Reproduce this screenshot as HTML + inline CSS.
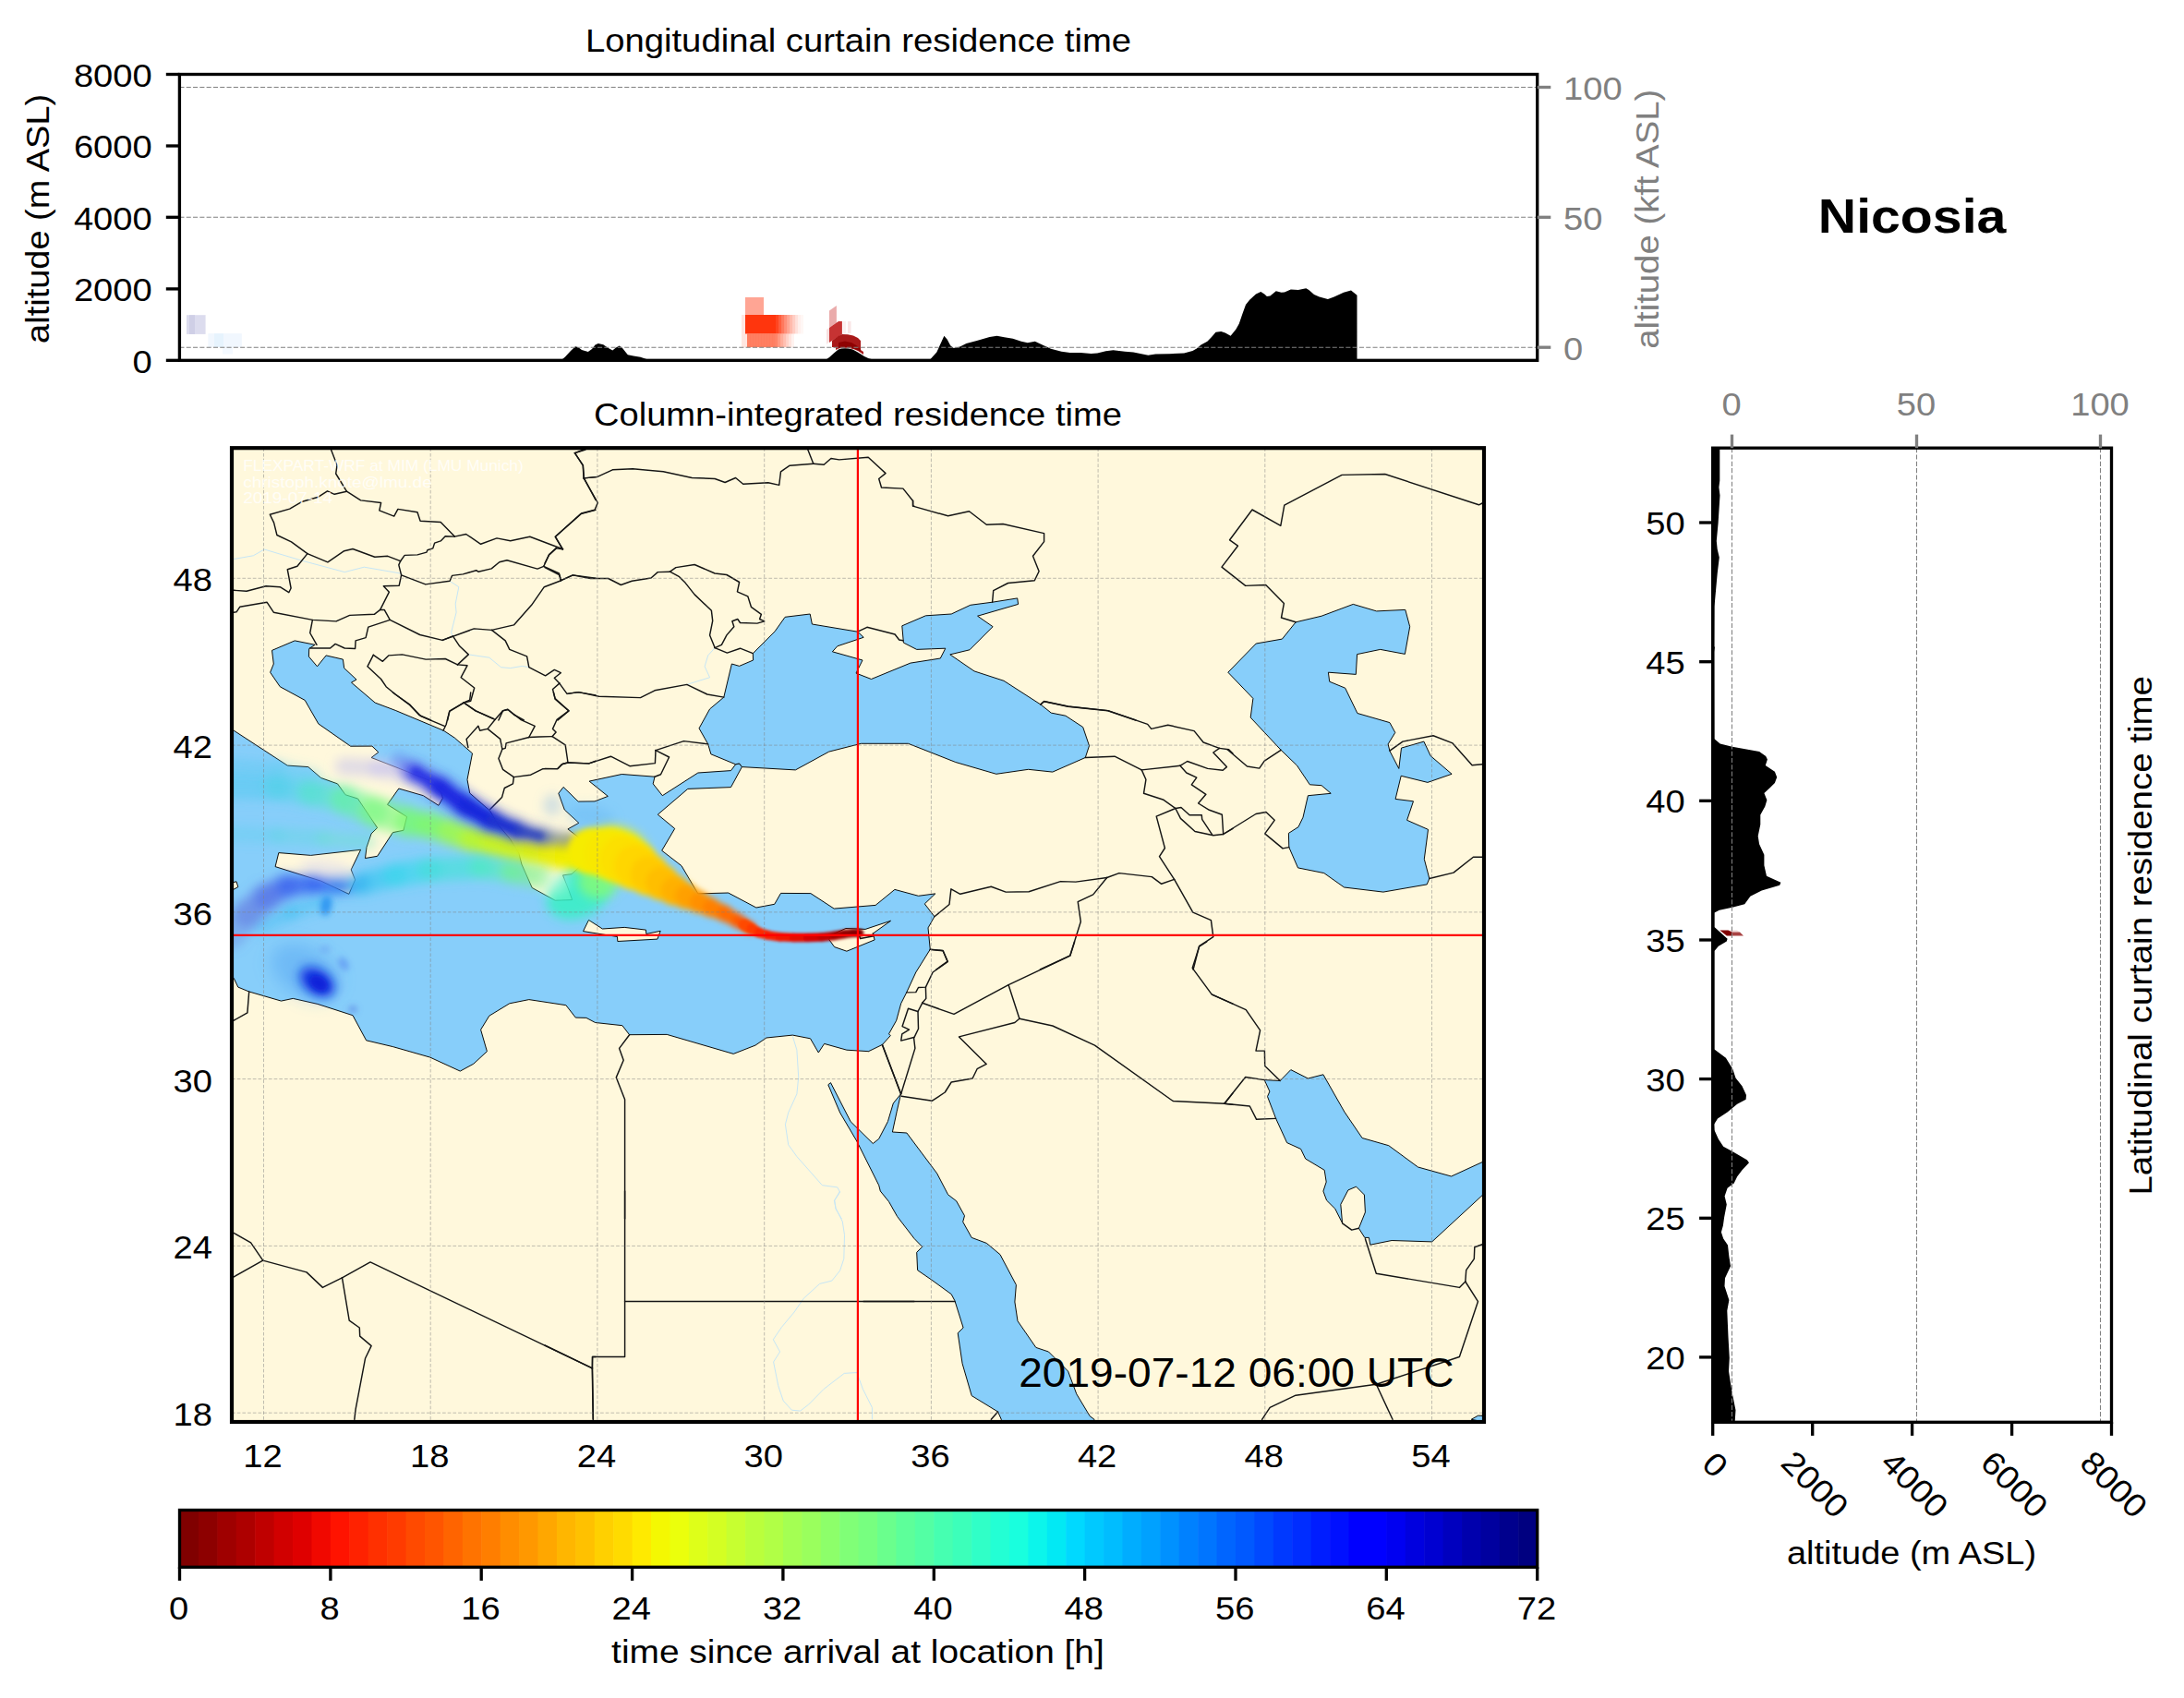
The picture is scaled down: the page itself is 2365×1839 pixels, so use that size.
<!DOCTYPE html>
<html><head><meta charset="utf-8"><title>FLEXPART residence time - Nicosia</title>
<style>html,body{margin:0;padding:0;background:#fff}svg{display:block}text{font-family:"Liberation Sans",sans-serif}</style></head><body>
<svg width="2365" height="1839" viewBox="0 0 2365 1839">
<defs>
<clipPath id="cmap"><rect x="251" y="485.2" width="1356" height="1054.8"/></clipPath>
<clipPath id="cax1"><rect x="194.4" y="80.5" width="1470.3" height="309.8"/></clipPath>
<clipPath id="cax3"><rect x="1854.7" y="485.2" width="431.8" height="1055.1"/></clipPath>
<filter id="b2" filterUnits="userSpaceOnUse" x="200" y="450" width="1450" height="1120"><feGaussianBlur stdDeviation="1.6"/></filter>
<filter id="b3" filterUnits="userSpaceOnUse" x="200" y="450" width="1450" height="1120"><feGaussianBlur stdDeviation="3"/></filter>
<filter id="b6" filterUnits="userSpaceOnUse" x="200" y="450" width="1450" height="1120"><feGaussianBlur stdDeviation="6"/></filter>
<filter id="b9" filterUnits="userSpaceOnUse" x="200" y="450" width="1450" height="1120"><feGaussianBlur stdDeviation="9"/></filter>
</defs>
<rect width="2365" height="1839" fill="#fff"/>
<g id="ax1">
<g clip-path="url(#cax1)">
<rect x="202" y="341.2" width="20.6" height="20.7" fill="#dcdcee"/>
<rect x="205" y="341.2" width="6" height="20.7" fill="#cfcfe6"/>
<rect x="225.4" y="361.2" width="36.4" height="14.8" fill="#f1f7fe"/>
<rect x="232" y="361.2" width="10" height="14.8" fill="#e6f3fd"/>
<rect x="241" y="376" width="11" height="7.5" fill="#f4f9ff"/>
<rect x="807" y="322" width="20" height="19" fill="#ff2800" opacity="0.42"/>
<rect x="803" y="341" width="5" height="20.5" fill="#ff2800" opacity="0.12"/>
<rect x="807.0" y="341" width="3.05" height="20.5" fill="#ff2a00" opacity="0.95"/>
<rect x="810.0" y="341" width="3.05" height="20.5" fill="#ff2a00" opacity="0.95"/>
<rect x="813.0" y="341" width="3.05" height="20.5" fill="#ff2a00" opacity="0.95"/>
<rect x="816.0" y="341" width="3.05" height="20.5" fill="#ff2a00" opacity="0.95"/>
<rect x="819.0" y="341" width="3.05" height="20.5" fill="#ff2a00" opacity="0.95"/>
<rect x="822.0" y="341" width="3.05" height="20.5" fill="#ff2a00" opacity="0.95"/>
<rect x="825.0" y="341" width="3.05" height="20.5" fill="#ff2a00" opacity="0.95"/>
<rect x="828.0" y="341" width="3.05" height="20.5" fill="#ff2a00" opacity="0.95"/>
<rect x="831.0" y="341" width="3.05" height="20.5" fill="#ff2a00" opacity="0.95"/>
<rect x="834.0" y="341" width="3.05" height="20.5" fill="#ff2a00" opacity="0.95"/>
<rect x="837.0" y="341" width="3.05" height="20.5" fill="#ff2a00" opacity="0.95"/>
<rect x="840.0" y="341" width="3.05" height="20.5" fill="#ff2a00" opacity="0.87"/>
<rect x="843.0" y="341" width="3.05" height="20.5" fill="#ff2a00" opacity="0.75"/>
<rect x="846.0" y="341" width="3.05" height="20.5" fill="#ff2a00" opacity="0.63"/>
<rect x="849.0" y="341" width="3.05" height="20.5" fill="#ff2a00" opacity="0.52"/>
<rect x="852.0" y="341" width="3.05" height="20.5" fill="#ff2a00" opacity="0.42"/>
<rect x="855.0" y="341" width="3.05" height="20.5" fill="#ff2a00" opacity="0.32"/>
<rect x="858.0" y="341" width="3.05" height="20.5" fill="#ff2a00" opacity="0.23"/>
<rect x="861.0" y="341" width="3.05" height="20.5" fill="#ff2a00" opacity="0.14"/>
<rect x="864.0" y="341" width="3.05" height="20.5" fill="#ff2a00" opacity="0.07"/>
<rect x="867.0" y="341" width="3.05" height="20.5" fill="#ff2a00" opacity="0.04"/>
<rect x="803.0" y="361.5" width="3.05" height="14.6" fill="#ff3000" opacity="0.12"/>
<rect x="806.0" y="361.5" width="3.05" height="14.6" fill="#ff3000" opacity="0.12"/>
<rect x="809.0" y="361.5" width="3.05" height="14.6" fill="#ff3000" opacity="0.62"/>
<rect x="812.0" y="361.5" width="3.05" height="14.6" fill="#ff3000" opacity="0.62"/>
<rect x="815.0" y="361.5" width="3.05" height="14.6" fill="#ff3000" opacity="0.62"/>
<rect x="818.0" y="361.5" width="3.05" height="14.6" fill="#ff3000" opacity="0.62"/>
<rect x="821.0" y="361.5" width="3.05" height="14.6" fill="#ff3000" opacity="0.62"/>
<rect x="824.0" y="361.5" width="3.05" height="14.6" fill="#ff3000" opacity="0.62"/>
<rect x="827.0" y="361.5" width="3.05" height="14.6" fill="#ff3000" opacity="0.62"/>
<rect x="830.0" y="361.5" width="3.05" height="14.6" fill="#ff3000" opacity="0.62"/>
<rect x="833.0" y="361.5" width="3.05" height="14.6" fill="#ff3000" opacity="0.62"/>
<rect x="836.0" y="361.5" width="3.05" height="14.6" fill="#ff3000" opacity="0.62"/>
<rect x="839.0" y="361.5" width="3.05" height="14.6" fill="#ff3000" opacity="0.59"/>
<rect x="842.0" y="361.5" width="3.05" height="14.6" fill="#ff3000" opacity="0.49"/>
<rect x="845.0" y="361.5" width="3.05" height="14.6" fill="#ff3000" opacity="0.39"/>
<rect x="848.0" y="361.5" width="3.05" height="14.6" fill="#ff3000" opacity="0.30"/>
<rect x="851.0" y="361.5" width="3.05" height="14.6" fill="#ff3000" opacity="0.21"/>
<rect x="854.0" y="361.5" width="3.05" height="14.6" fill="#ff3000" opacity="0.13"/>
<rect x="857.0" y="361.5" width="3.05" height="14.6" fill="#ff3000" opacity="0.06"/>
<polygon points="898,336.4 905.9,331 905.9,349.6 898,355" fill="#c00000" opacity="0.33"/>
<polygon points="895,357 898,355 898,370 895,373" fill="#c00000" opacity="0.12"/>
<polygon points="898,355 908,348 911.9,348 911.9,362 901,369 898,371" fill="#b80000" opacity="0.8"/>
<polygon points="913,348 916,348 916,361 913,361" fill="#c00000" opacity="0.06"/>
<polygon points="918,348 921.5,348 921.5,361 918,361" fill="#c00000" opacity="0.1"/>
<path d="M901,369 L908,364 L912,362 L918,362.2 L924,363.5 L929,366 L932,369 L932,379 L935,381 L935,384 L929,380 L924,378 L918,376.6 L912,376.6 L908,377.5 L905,379 L905,376 L901,376 Z" fill="#a00000" opacity="0.9"/>
<path d="M908,371 L915,369.5 L922,371 L928,374.5 L932,378 L932,381 L926,378 L918,376.6 L910,376.8 L908,377.5 Z" fill="#8b0000" opacity="0.9"/>
<path d="M607.5 390.3 L612.0 386.5 L618.0 380.0 L623.0 375.2 L626.0 376.0 L630.0 379.0 L636.8 381.0 L641.0 378.0 L644.5 373.5 L647.8 372.0 L653.3 373.3 L658.0 376.5 L663.3 379.4 L667.0 376.5 L670.7 374.6 L674.0 377.0 L679.8 384.3 L686.0 385.5 L693.6 386.7 L700.9 389.3 L703.0 390.3Z" fill="#000"/>
<path d="M893.4 390.3 L898.0 387.0 L903.0 382.5 L907.8 378.4 L911.0 377.4 L915.2 377.2 L919.0 377.5 L923.4 378.6 L928.0 381.0 L932.5 383.8 L936.0 386.0 L940.8 388.3 L945.7 389.6 L948.0 390.3Z" fill="#000"/>
<path d="M1006.0 390.3 L1007.5 388.9 L1014.3 381.6 L1022.4 363.7 L1025.8 367.8 L1029.2 374.2 L1032.7 377.0 L1039.5 375.4 L1046.4 372.0 L1057.8 369.0 L1071.6 364.9 L1079.6 363.7 L1087.6 365.3 L1096.8 366.7 L1105.9 369.7 L1112.8 371.3 L1120.8 369.7 L1128.8 373.6 L1138.0 377.7 L1149.4 380.7 L1158.6 382.0 L1170.0 382.0 L1181.5 383.0 L1188.3 382.5 L1197.5 380.2 L1205.5 379.3 L1218.1 380.7 L1227.3 381.6 L1243.3 384.8 L1251.3 383.4 L1266.2 383.2 L1282.2 382.5 L1291.4 380.0 L1295.9 377.5 L1300.5 373.6 L1307.4 369.7 L1312.0 365.1 L1316.5 359.8 L1322.3 358.9 L1326.8 360.5 L1332.6 363.7 L1338.3 356.8 L1341.7 350.7 L1345.2 340.4 L1349.0 330.1 L1353.2 324.8 L1360.0 318.6 L1365.3 315.9 L1369.2 318.6 L1371.9 320.9 L1375.4 320.4 L1381.8 315.2 L1387.5 316.8 L1390.9 316.6 L1397.8 313.6 L1405.8 314.0 L1414.3 312.2 L1417.3 314.0 L1423.0 319.1 L1428.7 321.6 L1437.9 323.9 L1444.7 321.6 L1455.0 316.8 L1463.0 314.5 L1469.5 319.8 L1469.5 390.3Z" fill="#000"/>
</g>
<line x1="194.4" y1="94.5" x2="1664.7" y2="94.5" stroke="#808080" stroke-width="1.05" stroke-dasharray="5.1 2.2"/>
<line x1="194.4" y1="235.3" x2="1664.7" y2="235.3" stroke="#808080" stroke-width="1.05" stroke-dasharray="5.1 2.2"/>
<line x1="194.4" y1="376.2" x2="1664.7" y2="376.2" stroke="#808080" stroke-width="1.05" stroke-dasharray="5.1 2.2"/>
<rect x="194.4" y="80.5" width="1470.3" height="309.8" fill="none" stroke="#000" stroke-width="3.33"/>
<line x1="179.8" y1="80.5" x2="194.4" y2="80.5" stroke="#000" stroke-width="3.33"/>
<text x="79.9" y="93.9" font-size="35.3" fill="#000" textLength="84.8" lengthAdjust="spacingAndGlyphs">8000</text>
<line x1="179.8" y1="158.0" x2="194.4" y2="158.0" stroke="#000" stroke-width="3.33"/>
<text x="79.9" y="171.4" font-size="35.3" fill="#000" textLength="84.8" lengthAdjust="spacingAndGlyphs">6000</text>
<line x1="179.8" y1="235.3" x2="194.4" y2="235.3" stroke="#000" stroke-width="3.33"/>
<text x="79.9" y="248.7" font-size="35.3" fill="#000" textLength="84.8" lengthAdjust="spacingAndGlyphs">4000</text>
<line x1="179.8" y1="312.9" x2="194.4" y2="312.9" stroke="#000" stroke-width="3.33"/>
<text x="79.9" y="326.3" font-size="35.3" fill="#000" textLength="84.8" lengthAdjust="spacingAndGlyphs">2000</text>
<line x1="179.8" y1="390.3" x2="194.4" y2="390.3" stroke="#000" stroke-width="3.33"/>
<text x="143.5" y="403.7" font-size="35.3" fill="#000" textLength="21.2" lengthAdjust="spacingAndGlyphs">0</text>
<line x1="1664.7" y1="94.5" x2="1679.3" y2="94.5" stroke="#808080" stroke-width="3.33"/>
<text x="1693.0" y="108.1" font-size="35.3" fill="#808080" textLength="63.6" lengthAdjust="spacingAndGlyphs">100</text>
<line x1="1664.7" y1="235.3" x2="1679.3" y2="235.3" stroke="#808080" stroke-width="3.33"/>
<text x="1693.0" y="248.9" font-size="35.3" fill="#808080" textLength="42.4" lengthAdjust="spacingAndGlyphs">50</text>
<line x1="1664.7" y1="376.2" x2="1679.3" y2="376.2" stroke="#808080" stroke-width="3.33"/>
<text x="1693.0" y="389.8" font-size="35.3" fill="#808080" textLength="21.2" lengthAdjust="spacingAndGlyphs">0</text>
<g transform="translate(53.2,371.9) rotate(-90)"><text x="0.0" y="0.0" font-size="35.3" fill="#000" textLength="270.1" lengthAdjust="spacingAndGlyphs">altitude (m ASL)</text></g>
<g transform="translate(1796.4,377.8) rotate(-90)"><text x="0.0" y="0.0" font-size="35.3" fill="#808080" textLength="281.1" lengthAdjust="spacingAndGlyphs">altitude (kft ASL)</text></g>
<text x="633.9" y="56.0" font-size="35.3" fill="#000" textLength="591.2" lengthAdjust="spacingAndGlyphs">Longitudinal curtain residence time</text>
</g>
<text x="1968.8" y="251.5" font-size="52.0" fill="#000" textLength="203.6" lengthAdjust="spacingAndGlyphs" font-weight="bold">Nicosia</text>
<g id="map">
<rect x="251.0" y="485.2" width="1356.0" height="1054.8" fill="#fff8dc"/>
<g clip-path="url(#cmap)">
<path d="M251.0 791.2 L253.2 791.2 L311.3 829.1 L333.8 830.6 L347.6 842.5 L365.5 848.9 L374.1 860.8 L387.5 865.0 L408.6 896.5 L402.1 902.9 L397.0 917.6 L395.5 929.5 L408.6 927.3 L425.4 901.6 L436.9 899.3 L440.6 884.6 L419.5 871.4 L431.8 854.0 L458.4 861.7 L474.9 872.3 L479.4 864.5 L477.6 858.1 L464.8 845.2 L433.6 832.8 L402.1 820.5 L409.8 814.7 L402.9 808.1 L379.6 808.2 L344.8 783.9 L330.2 758.4 L303.2 743.7 L292.6 728.2 L296.3 719.0 L294.5 704.4 L319.2 693.9 L341.2 698.3 L334.7 702.5 L334.4 711.1 L343.5 721.8 L353.1 709.9 L371.4 714.1 L372.7 723.6 L386.0 736.0 L380.5 739.2 L406.2 761.1 L428.2 769.4 L480.3 791.2 L492.3 799.1 L511.5 815.9 L506.0 844.3 L508.7 859.0 L530.7 878.2 L539.3 893.1 L552.4 908.6 L561.9 924.0 L564.9 936.0 L576.2 961.5 L601.2 975.2 L619.6 974.6 L616.1 964.5 L609.5 947.9 L619.0 946.7 L633.3 933.6 L641.7 918.1 L628.6 908.6 L614.9 897.9 L626.8 891.3 L611.3 877.0 L604.8 859.2 L610.1 852.4 L626.2 868.1 L644.0 867.9 L658.3 862.4 L638.1 846.1 L673.3 838.5 L709.0 841.2 L707.2 848.9 L717.3 861.7 L755.8 837.0 L791.5 834.6 L796.6 827.8 L800.6 826.9 L803.4 830.6 L791.5 852.6 L744.8 854.4 L712.3 882.2 L730.7 897.4 L716.7 921.2 L738.0 937.7 L755.8 967.9 L788.7 967.0 L818.9 983.0 L838.7 979.3 L845.5 967.4 L877.9 967.6 L903.2 984.1 L948.1 980.4 L968.9 963.4 L994.5 970.3 L1012.8 967.9 L1001.3 978.9 L1011.9 992.7 L1005.0 1004.9 L1007.3 1028.4 L1007.3 1028.2 L991.8 1053.0 L981.7 1074.9 L975.7 1086.8 L970.7 1105.2 L962.5 1119.8 L964.3 1121.6 L955.5 1131.4 L940.5 1138.7 L940.7 1138.7 L916.9 1137.2 L892.6 1130.4 L886.3 1140.0 L877.5 1124.8 L858.3 1121.1 L829.9 1124.0 L818.0 1132.1 L794.2 1141.4 L722.2 1120.4 L681.6 1120.7 L673.9 1110.7 L644.6 1107.5 L634.9 1102.4 L623.3 1102.1 L612.9 1088.7 L572.8 1082.6 L551.8 1086.8 L529.8 1100.2 L520.6 1115.2 L527.4 1138.7 L512.8 1152.2 L498.3 1160.1 L465.7 1145.1 L425.4 1133.6 L396.6 1126.8 L382.0 1099.7 L343.9 1087.4 L317.3 1081.4 L304.5 1084.1 L269.7 1074.0 L257.8 1069.1 L253.2 1059.4 L251.0 1059.4Z" fill="#87cefa" stroke="#000" stroke-width="0.95" stroke-linejoin="round"/>
<path d="M796.6 827.8 L769.9 816.8 L766.7 805.9 L757.0 788.8 L768.6 767.9 L783.8 755.1 L792.4 719.0 L800.6 721.4 L815.6 715.0 L815.3 707.7 L839.1 683.8 L850.1 668.3 L877.2 665.0 L879.4 676.0 L928.8 684.2 L935.2 690.3 L906.8 699.8 L901.4 705.8 L934.0 715.0 L927.0 729.1 L943.5 735.5 L985.9 718.1 L1018.3 713.0 L1023.8 702.2 L992.7 703.4 L978.4 696.1 L976.8 677.8 L1002.4 666.8 L1030.2 665.0 L1050.8 655.3 L1074.6 652.2 L1101.7 647.9 L1102.6 654.4 L1058.6 667.2 L1075.1 678.7 L1050.0 703.8 L1028.8 708.9 L1055.0 726.9 L1087.0 737.3 L1126.9 763.0 L1138.3 772.1 L1153.9 775.2 L1172.7 787.5 L1179.5 807.7 L1175.3 820.5 L1139.8 836.1 L1113.6 833.3 L1078.8 838.3 L1034.8 825.5 L983.5 805.3 L932.5 805.3 L897.7 814.1 L861.4 833.9 L803.4 830.6 L800.6 826.9Z" fill="#87cefa" stroke="#000" stroke-width="0.95" stroke-linejoin="round"/>
<path d="M1403.1 673.8 L1431.1 667.2 L1465.3 654.4 L1490.6 661.9 L1521.8 660.4 L1526.7 678.7 L1521.4 708.4 L1494.7 703.4 L1469.6 708.6 L1468.3 730.4 L1438.4 728.2 L1439.7 738.2 L1456.7 745.2 L1469.9 772.5 L1504.9 782.6 L1510.8 793.4 L1503.1 805.9 L1504.9 813.2 L1514.8 832.4 L1517.5 810.1 L1541.9 803.1 L1549.2 818.7 L1572.1 838.3 L1545.9 847.4 L1517.2 840.3 L1511.1 865.4 L1530.5 867.8 L1523.6 888.3 L1546.5 898.4 L1542.3 930.4 L1547.8 951.5 L1545.2 957.9 L1497.9 966.1 L1455.5 961.0 L1433.8 945.6 L1405.5 939.9 L1395.8 917.6 L1395.4 902.4 L1406.0 895.6 L1411.0 885.2 L1416.4 861.7 L1441.2 859.3 L1431.1 850.7 L1418.3 849.8 L1404.5 829.1 L1387.1 812.3 L1354.2 777.1 L1356.9 756.4 L1329.8 728.2 L1360.2 697.0 L1388.4 692.1Z" fill="#87cefa" stroke="#000" stroke-width="0.95" stroke-linejoin="round"/>
<path d="M899.5 1172.6 L921.1 1214.7 L945.3 1238.5 L951.7 1233.4 L961.4 1214.7 L967.3 1194.9 L975.5 1184.8 L971.3 1203.2 L966.4 1226.0 L981.9 1227.0 L1014.7 1270.9 L1026.6 1293.8 L1035.7 1300.8 L1044.5 1316.7 L1042.7 1323.3 L1052.2 1340.4 L1068.3 1346.4 L1083.0 1358.7 L1100.4 1391.6 L1098.9 1410.0 L1102.0 1430.7 L1121.8 1459.4 L1135.5 1464.0 L1156.6 1485.1 L1165.8 1509.8 L1180.1 1533.6 L1185.0 1537.3 L1185.0 1540.0 L1084.3 1540.0 L1084.3 1537.3 L1080.6 1529.0 L1052.2 1511.6 L1042.1 1476.8 L1037.2 1443.8 L1043.1 1438.0 L1033.9 1408.7 L1030.2 1401.7 L1008.3 1385.8 L993.6 1375.7 L992.7 1356.3 L998.7 1350.4 L989.9 1341.3 L971.6 1317.5 L962.5 1301.4 L953.3 1290.0 L951.7 1283.7 L927.9 1236.1 L909.6 1205.0 L896.8 1174.8Z" fill="#87cefa" stroke="#000" stroke-width="0.95" stroke-linejoin="round"/>
<path d="M1369.2 1169.6 L1386.2 1170.5 L1397.8 1158.6 L1416.4 1168.0 L1432.9 1163.8 L1455.8 1204.1 L1475.1 1232.5 L1503.8 1240.7 L1535.5 1264.0 L1571.6 1274.0 L1605.1 1258.6 L1607.0 1258.6 L1607.0 1294.6 L1605.1 1294.6 L1550.7 1344.9 L1507.1 1343.5 L1483.8 1348.2 L1482.4 1340.4 L1477.8 1340.4 L1471.4 1330.3 L1478.4 1312.9 L1477.4 1294.0 L1468.6 1285.2 L1459.9 1288.9 L1451.8 1304.4 L1453.6 1324.8 L1445.8 1309.2 L1436.6 1300.1 L1432.9 1290.1 L1436.2 1280.1 L1434.2 1267.3 L1413.7 1255.0 L1408.6 1244.4 L1393.6 1237.6 L1381.6 1211.4 L1372.5 1187.6 L1374.9 1182.1Z" fill="#87cefa" stroke="#000" stroke-width="0.95" stroke-linejoin="round"/>
<path d="M1593.2 1537.3 L1600.5 1533.2 L1605.1 1533.2 L1607.0 1540.0Z" fill="#87cefa" stroke="#000" stroke-width="0.95" stroke-linejoin="round"/>
<path d="M301.8 923.6 L336.6 926.4 L390.6 920.3 L380.2 941.9 L384.6 952.9 L377.8 968.3 L347.6 954.2 L298.1 938.6Z" fill="#fff8dc" stroke="#000" stroke-width="0.95" stroke-linejoin="round"/>
<path d="M251.0 956.0 L256.0 954.8 L257.8 960.6 L251.0 964.3Z" fill="#fff8dc" stroke="#000" stroke-width="0.95" stroke-linejoin="round"/>
<path d="M637.5 996.4 L652.4 1006.0 L676.2 1004.4 L699.4 1007.1 L699.8 1011.5 L715.2 1008.3 L711.9 1017.1 L668.8 1019.5 L668.5 1014.5 L631.5 1008.6Z" fill="#fff8dc" stroke="#000" stroke-width="0.95" stroke-linejoin="round"/>
<path d="M899.5 1012.8 L916.0 1005.5 L937.1 1006.4 L964.5 997.3 L945.3 1011.0 L947.1 1017.9 L916.9 1030.2 L903.6 1025.6 L897.7 1017.4Z" fill="#fff8dc" stroke="#000" stroke-width="0.95" stroke-linejoin="round"/>
<path d="M253.2 605.5 L274.3 601.8 L286.2 595.0 L327.4 607.3 L373.2 619.6 L394.3 614.2 L433.6 621.0 L434.6 622.9" fill="none" stroke="#c6e6f6" stroke-width="1.0" stroke-linejoin="round"/>
<path d="M487.1 629.3 L496.8 635.7 L493.2 654.0 L494.1 663.2 L488.6 685.1 L490.4 688.8" fill="none" stroke="#c6e6f6" stroke-width="1.0" stroke-linejoin="round"/>
<path d="M507.3 708.9 L529.8 712.2 L542.6 722.7 L552.7 723.6 L565.5 721.4 L572.8 722.7" fill="none" stroke="#c6e6f6" stroke-width="1.0" stroke-linejoin="round"/>
<path d="M774.1 701.6 L766.7 709.9 L763.1 721.8 L768.6 733.7 L743.8 741.4" fill="none" stroke="#c6e6f6" stroke-width="1.0" stroke-linejoin="round"/>
<path d="M858.3 1122.2 L862.9 1137.2 L864.7 1166.5 L862.9 1184.8 L853.7 1205.0 L850.4 1217.8 L853.7 1239.8 L862.9 1252.6 L890.4 1283.7 L906.8 1285.9 L909.6 1291.1 L903.6 1300.2 L905.0 1309.4 L911.4 1320.0" fill="none" stroke="#c6e6f6" stroke-width="1.0" stroke-linejoin="round"/>
<path d="M909.6 1290.0 L903.6 1300.1 L905.0 1308.3 L912.3 1323.0 L914.5 1337.6 L913.8 1363.3 L909.6 1376.1 L900.8 1387.1 L887.6 1390.4 L870.2 1406.3 L860.1 1421.0 L846.4 1437.4 L837.3 1450.8 L844.6 1464.0 L837.6 1475.0 L842.7 1500.6 L848.2 1517.1 L857.4 1527.2 L866.6 1528.1 L875.7 1521.1 L892.2 1504.3 L914.2 1487.4 L927.9 1486.5 L934.3 1504.3 L944.4 1524.4 L944.4 1537.3" fill="none" stroke="#c6e6f6" stroke-width="1.0" stroke-linejoin="round"/>
<g fill="none" stroke="#151515" stroke-width="1.45" stroke-linejoin="round" stroke-linecap="round">
<path d="M358.6 487.3 L365.0 503.8 L363.7 513.0 L375.4 532.2"/>
<path d="M375.4 532.2 L362.2 535.3 L354.5 531.8 L344.8 538.2 L327.4 543.2 L313.7 551.1 L292.3 557.3 L296.6 566.1 L299.9 579.5 L315.5 586.8 L332.9 599.6"/>
<path d="M375.4 532.2 L390.6 541.9 L412.6 544.5 L410.8 552.9 L426.7 559.1 L430.9 551.4 L452.0 554.7 L455.1 564.2 L477.2 565.5 L492.3 581.1"/>
<path d="M332.9 599.6 L354.9 608.8 L372.7 596.7 L382.0 594.5 L405.8 603.3 L419.9 602.3 L433.6 607.7"/>
<path d="M433.6 607.7 L438.2 601.4 L452.0 600.9 L462.0 598.1 L462.9 595.8 L468.8 593.9 L470.6 588.1 L477.2 585.9 L482.2 580.7 L492.3 581.1"/>
<path d="M492.3 581.1 L504.7 578.5 L520.6 589.3 L538.0 582.9 L552.7 585.7 L573.8 581.3 L609.5 594.8"/>
<path d="M609.5 594.8 L601.2 581.3 L629.1 556.6 L645.0 552.3"/>
<path d="M332.9 599.6 L321.9 613.3 L311.3 616.8 L315.1 637.0 L312.8 641.7 L303.2 635.7 L288.0 634.8 L267.0 640.3 L253.2 639.3"/>
<path d="M253.2 663.2 L256.0 662.8 L259.7 657.3 L289.0 652.2 L296.3 663.2 L338.4 671.4 L364.0 672.9 L378.7 666.4 L405.3 665.3 L411.7 660.4"/>
<path d="M411.7 660.4 L421.4 641.2 L415.3 634.8 L432.2 634.2 L434.6 622.9 L431.8 611.9 L433.6 607.7"/>
<path d="M434.6 622.9 L460.8 632.9 L487.1 629.3 L489.5 623.4 L501.4 621.9 L515.7 617.7 L517.9 619.2 L532.2 615.9 L540.8 608.8 L549.0 606.7 L582.0 616.1 L588.8 613.3"/>
<path d="M588.8 613.3 L594.5 600.9 L602.1 593.9 L609.5 594.8"/>
<path d="M588.8 613.3 L605.4 621.0 L607.6 628.7"/>
<path d="M607.6 628.7 L620.5 622.9 L645.0 626.2"/>
<path d="M607.6 628.7 L589.3 635.7 L575.6 655.3 L556.4 676.9 L532.5 682.4"/>
<path d="M532.5 682.4 L513.3 680.9 L479.1 693.4 L454.7 687.5 L422.3 671.4 L416.2 660.4 L411.7 660.4"/>
<path d="M422.3 671.4 L398.8 679.1 L396.1 690.6 L385.1 693.9 L384.6 702.5 L373.2 702.0 L363.1 697.4 L357.6 702.0 L335.7 702.0"/>
<path d="M338.4 671.4 L335.7 685.5 L343.0 698.3"/>
<path d="M404.3 709.3 L397.9 721.8 L412.6 735.5 L418.1 743.7 L428.2 752.0 L443.7 763.0 L453.8 774.3 L466.6 780.0"/>
<path d="M404.3 709.3 L414.4 716.3 L420.8 709.9 L435.5 708.9 L461.1 714.1 L482.2 713.5 L495.5 719.9"/>
<path d="M479.1 693.4 L490.4 688.8 L497.7 699.8 L507.3 708.9 L495.5 719.9"/>
<path d="M495.5 719.9 L506.0 720.8 L499.2 733.7 L513.7 745.0 L509.7 759.3 L502.3 761.1"/>
<path d="M532.5 682.4 L547.2 693.9 L551.8 703.4 L570.6 710.8 L572.8 722.7 L590.6 731.8 L600.3 725.4 L607.3 728.7 L600.3 734.2 L605.8 740.1"/>
<path d="M605.8 740.1 L598.5 746.5 L601.2 756.6 L615.9 769.9 L604.0 780.0"/>
<path d="M605.8 740.1 L614.0 751.4 L626.0 749.6 L645.0 752.9"/>
<path d="M502.3 761.1 L486.8 770.3 L484.6 780.0"/>
<path d="M502.3 761.1 L515.1 769.9 L534.4 778.5"/>
<path d="M539.9 780.0 L544.5 769.9 L549.9 768.5 L556.4 774.0 L567.3 780.0"/>
<path d="M622.3 490.6 L631.4 487.3"/>
<path d="M622.3 490.6 L631.4 503.8 L632.4 517.9 L645.0 516.6"/>
<path d="M632.4 517.9 L645.0 541.4"/>
<path d="M634.0 487.0 L622.6 490.6 L631.2 504.2 L632.1 517.9"/>
<path d="M632.1 517.9 L646.4 516.6 L663.3 508.8 L685.2 507.8 L718.2 510.8 L749.3 517.5 L774.1 518.5 L785.1 522.5 L796.6 517.5 L804.7 524.3 L831.8 522.7 L843.7 525.4 L845.5 510.8 L855.2 504.2 L880.8 502.3"/>
<path d="M880.8 502.3 L874.8 487.0"/>
<path d="M880.8 502.3 L892.2 503.3 L899.9 496.5 L908.7 497.9 L940.2 495.2 L959.0 512.6 L951.7 518.5 L954.5 528.0 L977.9 529.1 L988.4 542.3 L988.7 548.1 L990.0 548.1"/>
<path d="M632.1 517.9 L647.3 544.5 L644.0 552.3 L629.4 556.0 L601.5 581.3 L609.2 594.8"/>
<path d="M602.5 593.6 L594.6 600.9 L590.0 610.0"/>
<path d="M590.0 614.6 L605.6 622.5 L607.4 628.7"/>
<path d="M607.4 628.7 L620.2 622.9 L639.5 626.5 L658.7 626.5 L672.4 633.5 L684.3 629.3 L705.0 626.0 L712.3 619.6 L725.5 619.2"/>
<path d="M725.5 619.2 L731.9 614.6 L752.1 611.5 L774.1 621.0 L786.9 622.5 L800.6 630.5 L798.4 640.8 L809.8 645.8 L813.4 657.3 L824.4 665.3 L822.6 670.5 L827.7 672.9 L819.9 675.1 L801.5 674.5 L798.8 670.5 L792.9 672.7 L794.8 678.7 L786.9 687.9 L781.4 698.3 L774.1 701.6"/>
<path d="M725.5 619.2 L735.6 624.7 L742.0 631.1 L752.1 643.9 L770.4 661.3 L771.7 672.3 L768.6 687.9 L774.1 701.6"/>
<path d="M774.1 701.6 L787.4 707.1 L801.5 702.2 L815.3 707.7"/>
<path d="M614.7 751.4 L626.6 749.6 L648.6 754.2 L693.5 755.6 L709.0 747.8 L743.8 741.4 L765.8 752.0 L783.8 755.1"/>
<path d="M988.7 542.3 L988.5 548.1 L1026.6 558.8 L1049.5 553.8 L1068.3 568.3 L1086.1 567.5 L1130.6 577.6 L1130.6 586.6 L1118.5 602.3 L1125.1 618.8 L1120.3 628.7 L1091.6 631.5 L1075.7 639.7 L1074.6 652.2"/>
<path d="M1126.9 763.0 L1130.6 759.7 L1156.6 765.2 L1199.7 769.7 L1229.9 780.0"/>
<path d="M1605.1 545.0 L1601.4 546.8 L1499.8 513.5 L1453.1 514.4 L1390.8 547.2 L1386.8 569.4 L1356.0 552.0 L1331.6 584.8 L1340.4 591.2 L1323.0 614.1 L1348.7 634.4 L1370.7 633.5 L1390.4 653.4 L1387.5 669.0 L1403.1 673.8"/>
<path d="M425.4 750.0 L442.8 762.8 L455.6 775.6 L481.3 786.3"/>
<path d="M509.7 750.0 L508.7 758.2 L502.3 761.0"/>
<path d="M502.3 761.0 L486.8 770.1 L483.1 784.8 L480.0 791.2"/>
<path d="M502.3 761.0 L515.1 769.8 L536.2 779.3 L528.0 789.4 L519.7 791.2 L517.9 786.3 L505.1 800.4 L506.9 809.5"/>
<path d="M536.2 779.3 L544.5 769.8 L549.9 768.3 L563.7 779.3 L579.2 786.3 L572.8 798.5"/>
<path d="M528.0 789.4 L541.7 800.4 L543.9 811.4 L547.2 810.4 L548.1 804.9 L572.8 798.5"/>
<path d="M543.9 811.4 L539.9 821.4 L544.5 833.3 L556.4 841.6"/>
<path d="M556.4 841.6 L555.4 848.9 L546.3 853.5 L543.5 863.6 L530.7 876.4"/>
<path d="M556.4 841.6 L574.7 839.2 L587.5 832.8 L604.0 832.4 L609.5 827.3 L615.0 826.0"/>
<path d="M615.0 826.0 L612.2 806.8 L598.1 797.6"/>
<path d="M598.1 797.6 L583.8 798.0 L572.8 798.5"/>
<path d="M598.1 797.6 L602.1 793.0 L598.5 789.4 L603.1 779.3 L615.9 769.8 L601.2 757.3 L599.4 750.0"/>
<path d="M615.0 826.0 L637.9 826.9 L645.0 824.2"/>
<path d="M614.7 826.0 L637.6 826.9 L661.4 819.2 L681.9 829.7 L709.4 826.6 L710.0 812.6"/>
<path d="M614.7 826.0 L608.3 827.8 L603.7 832.8 L590.0 832.4"/>
<path d="M710.0 812.6 L740.5 802.6 L766.7 805.9"/>
<path d="M710.0 812.6 L724.6 820.0 L715.5 838.8 L709.0 841.2"/>
<path d="M1126.9 762.8 L1130.6 759.5 L1156.6 765.0 L1199.7 769.6 L1242.7 784.4 L1246.7 789.4 L1264.7 785.2 L1293.1 791.6 L1303.1 804.0 L1320.5 810.4"/>
<path d="M1320.5 810.4 L1330.6 811.7 L1335.0 815.9"/>
<path d="M1320.5 810.4 L1313.8 815.0 L1328.4 830.6 L1324.2 834.2 L1307.7 832.4 L1285.7 824.5 L1277.9 829.3"/>
<path d="M1175.3 820.5 L1207.0 819.2 L1236.3 833.9"/>
<path d="M1236.3 833.9 L1277.9 829.3"/>
<path d="M1236.3 833.9 L1240.9 844.3 L1238.5 859.3 L1260.1 866.3 L1272.9 875.5"/>
<path d="M1277.9 829.3 L1284.8 837.0 L1295.8 842.1 L1290.3 849.8 L1305.9 860.3 L1297.6 870.0 L1309.5 877.3 L1323.3 882.2 L1324.7 903.5"/>
<path d="M1272.9 875.5 L1279.0 874.5 L1288.1 882.8 L1301.3 882.8 L1301.7 887.4 L1312.7 904.2"/>
<path d="M1272.9 875.5 L1252.2 884.1 L1261.4 918.5 L1255.5 927.7 L1271.6 952.4"/>
<path d="M1272.9 875.5 L1278.4 886.4 L1294.0 900.5 L1313.8 904.8 L1324.7 903.5 L1335.0 897.4"/>
<path d="M1011.9 992.7 L1028.0 979.5 L1029.9 962.8 L1039.8 968.3 L1073.3 960.3 L1089.2 966.1 L1114.1 965.8 L1148.4 954.6 L1164.9 955.1 L1198.7 950.5"/>
<path d="M1198.7 950.5 L1211.9 945.6 L1247.3 949.6 L1257.7 957.3 L1271.6 952.4"/>
<path d="M1198.7 950.5 L1183.7 968.9 L1167.2 976.7 L1170.3 998.2 L1158.8 1034.8 L1126.4 1050.0"/>
<path d="M1271.6 952.4 L1291.8 988.1 L1311.4 996.7 L1313.8 1014.7 L1298.6 1024.7 L1292.1 1050.0"/>
<path d="M1007.3 1028.4 L1021.1 1029.7 L1026.2 1041.2 L1013.8 1050.0"/>
<path d="M1504.9 813.2 L1519.0 803.1 L1552.0 796.7 L1573.0 804.9 L1594.1 828.8 L1605.1 827.8"/>
<path d="M1547.8 951.5 L1574.0 945.1 L1595.4 928.2 L1605.1 928.2"/>
<path d="M1329.1 811.7 L1350.5 830.0 L1363.7 832.1 L1369.2 824.2 L1387.1 812.3"/>
<path d="M1324.5 903.5 L1360.0 881.5 L1371.0 879.5 L1380.2 888.3 L1369.7 902.9 L1389.0 918.9 L1395.8 917.6"/>
<path d="M269.7 1074.0 L267.9 1096.9 L253.2 1105.2"/>
<path d="M681.6 1120.7 L670.6 1135.4 L675.2 1148.2 L667.3 1166.9 L676.6 1190.7 L676.6 1320.0"/>
<path d="M955.4 1131.7 L975.5 1184.8"/>
<path d="M1007.3 1028.2 L1021.1 1029.5 L1026.2 1041.6 L1010.1 1053.0 L1002.4 1069.1 L994.5 1069.5 L991.8 1074.6 L981.7 1074.9"/>
<path d="M1002.4 1069.1 L1002.8 1081.4 L998.7 1086.3"/>
<path d="M998.7 1086.3 L1033.0 1098.4 L1092.1 1066.7"/>
<path d="M1092.1 1066.7 L1158.8 1035.2 L1163.6 1020.0"/>
<path d="M1092.1 1066.7 L1103.9 1103.3"/>
<path d="M1103.9 1103.3 L1139.8 1111.0 L1185.5 1132.1 L1270.2 1192.5 L1326.0 1195.3 L1335.0 1196.4"/>
<path d="M1326.0 1195.3 L1335.0 1183.9"/>
<path d="M1103.9 1103.3 L1098.9 1107.5 L1038.5 1122.9 L1068.2 1152.4 L1058.1 1157.7 L1053.1 1168.0 L1030.2 1172.0 L1023.3 1183.0 L1009.5 1192.2 L976.2 1187.2"/>
<path d="M998.7 1086.3 L994.0 1095.5 L994.5 1114.3 L989.6 1124.4 L990.9 1135.4 L975.7 1184.8"/>
<path d="M994.0 1095.5 L983.5 1092.3 L977.1 1111.6 L984.5 1115.2 L976.8 1119.8 L975.7 1127.1 L989.6 1123.5"/>
<path d="M955.5 1131.4 L975.7 1184.8"/>
<path d="M1306.8 1020.0 L1298.6 1025.1 L1291.2 1048.4 L1312.3 1077.1 L1335.0 1087.2"/>
<path d="M1312.6 1077.1 L1349.2 1093.6 L1364.6 1115.8 L1360.0 1138.1 L1369.4 1138.1 L1369.7 1154.6 L1386.2 1170.5"/>
<path d="M1325.8 1195.3 L1348.7 1166.5 L1369.2 1169.6"/>
<path d="M1325.8 1195.3 L1353.3 1198.0 L1360.6 1212.3 L1381.6 1211.4"/>
<path d="M253.2 1335.4 L271.6 1345.9 L284.7 1365.1"/>
<path d="M253.2 1382.9 L284.7 1365.1"/>
<path d="M284.7 1365.1 L332.0 1377.9 L349.4 1394.4 L370.5 1383.8"/>
<path d="M370.5 1383.8 L401.0 1366.9 L641.5 1481.9"/>
<path d="M370.5 1383.8 L378.2 1430.1 L389.3 1438.0 L389.7 1447.1 L402.1 1457.6 L395.5 1471.3 L385.1 1526.3 L383.8 1537.3"/>
<path d="M641.5 1481.9 L641.5 1469.5 L645.0 1469.5"/>
<path d="M641.5 1481.9 L642.4 1537.3"/>
<path d="M676.6 1290.0 L676.6 1409.4"/>
<path d="M676.6 1409.4 L676.6 1469.5 L641.6 1469.5 L641.3 1481.9"/>
<path d="M676.6 1409.4 L990.0 1409.4"/>
<path d="M590.0 1457.0 L641.3 1481.9"/>
<path d="M641.3 1481.9 L642.2 1537.3"/>
<path d="M935.0 1409.4 L1033.9 1409.4"/>
<path d="M1080.6 1529.0 L1073.3 1537.3"/>
<path d="M1453.6 1324.8 L1463.7 1332.1 L1471.4 1330.3"/>
<path d="M1478.4 1341.8 L1490.3 1379.2 L1580.4 1394.4 L1586.8 1388.0"/>
<path d="M1586.8 1388.0 L1587.7 1375.7 L1596.3 1363.3 L1596.8 1350.8 L1605.1 1347.7"/>
<path d="M1586.8 1388.0 L1600.5 1409.6 L1580.4 1469.5 L1490.3 1499.3"/>
<path d="M1490.3 1499.3 L1403.1 1511.2 L1375.2 1524.4 L1366.6 1537.3"/>
<path d="M1490.3 1499.3 L1508.0 1537.3"/>
<path d="M928.8 684.2 L938.9 679.3 L969.1 687.0 L973.7 693.0 L977.9 693.7"/>
<path d="M945.3 1011.0 L946.2 1013.7 L931.6 1016.5 L930.7 1013.7"/>
</g>
<g filter="url(#b6)" opacity="1.00" fill="none" stroke-linecap="round">
<line x1="246.0" y1="850.0" x2="300.0" y2="852.0" stroke="#46c8eb" stroke-width="30.0" stroke-opacity="0.42"/>
<line x1="300.0" y1="852.0" x2="336.0" y2="858.0" stroke="#46d7e1" stroke-width="29.0" stroke-opacity="0.44"/>
<line x1="336.0" y1="858.0" x2="373.0" y2="866.0" stroke="#50ebbe" stroke-width="28.0" stroke-opacity="0.50"/>
<line x1="373.0" y1="866.0" x2="405.0" y2="879.0" stroke="#64f596" stroke-width="32.0" stroke-opacity="0.55"/>
<line x1="405.0" y1="879.0" x2="442.0" y2="890.0" stroke="#78f878" stroke-width="33.0" stroke-opacity="0.60"/>
<line x1="442.0" y1="890.0" x2="465.0" y2="894.0" stroke="#78fa6e" stroke-width="29.0" stroke-opacity="0.62"/>
<line x1="465.0" y1="894.0" x2="488.0" y2="901.0" stroke="#82fa64" stroke-width="27.5" stroke-opacity="0.70"/>
<line x1="488.0" y1="901.0" x2="510.0" y2="909.0" stroke="#a0f850" stroke-width="27.0" stroke-opacity="0.80"/>
<line x1="510.0" y1="909.0" x2="532.0" y2="914.0" stroke="#b9f52d" stroke-width="26.5" stroke-opacity="0.88"/>
<line x1="532.0" y1="914.0" x2="554.0" y2="919.0" stroke="#c8f228" stroke-width="26.0" stroke-opacity="0.92"/>
<line x1="554.0" y1="919.0" x2="577.0" y2="922.0" stroke="#cdf023" stroke-width="27.0" stroke-opacity="0.95"/>
<line x1="577.0" y1="922.0" x2="599.0" y2="925.0" stroke="#dcee18" stroke-width="29.0" stroke-opacity="0.95"/>
<line x1="599.0" y1="925.0" x2="620.0" y2="926.0" stroke="#ebee0a" stroke-width="33.0" stroke-opacity="1.00"/>
<line x1="620.0" y1="926.0" x2="640.0" y2="925.0" stroke="#f2ee00" stroke-width="39.0" stroke-opacity="1.00"/>
</g>
<g filter="url(#b6)" opacity="1.00" fill="none" stroke-linecap="round">
<line x1="246.0" y1="903.0" x2="300.0" y2="905.0" stroke="#50d0e8" stroke-width="16.0" stroke-opacity="0.32"/>
<line x1="300.0" y1="905.0" x2="350.0" y2="908.0" stroke="#58dcd8" stroke-width="16.0" stroke-opacity="0.36"/>
<line x1="350.0" y1="908.0" x2="400.0" y2="912.0" stroke="#68e8c0" stroke-width="15.0" stroke-opacity="0.38"/>
</g>
<g filter="url(#b6)" opacity="1.00" fill="none" stroke-linecap="round">
<line x1="285.0" y1="1003.0" x2="315.0" y2="988.0" stroke="#3cbef0" stroke-width="17.0" stroke-opacity="0.40"/>
<line x1="315.0" y1="988.0" x2="350.0" y2="976.0" stroke="#3cbef0" stroke-width="17.0" stroke-opacity="0.42"/>
</g>
<g filter="url(#b6)" opacity="1.00" fill="none" stroke-linecap="round">
<line x1="246.0" y1="828.0" x2="300.0" y2="832.0" stroke="#50c8f0" stroke-width="16.0" stroke-opacity="0.30"/>
<line x1="300.0" y1="832.0" x2="340.0" y2="840.0" stroke="#58d0ec" stroke-width="15.0" stroke-opacity="0.30"/>
</g>
<g filter="url(#b6)" opacity="1.00" fill="none" stroke-linecap="round">
<line x1="250.0" y1="1012.0" x2="268.0" y2="990.0" stroke="#6878dc" stroke-width="31.0" stroke-opacity="0.35"/>
<line x1="268.0" y1="990.0" x2="288.0" y2="972.0" stroke="#6070e0" stroke-width="31.0" stroke-opacity="0.45"/>
<line x1="288.0" y1="972.0" x2="310.0" y2="960.0" stroke="#4c68e6" stroke-width="27.0" stroke-opacity="0.60"/>
<line x1="310.0" y1="960.0" x2="340.0" y2="957.0" stroke="#3a62ee" stroke-width="22.0" stroke-opacity="0.75"/>
<line x1="340.0" y1="957.0" x2="365.0" y2="959.0" stroke="#3264f0" stroke-width="19.0" stroke-opacity="0.80"/>
<line x1="365.0" y1="959.0" x2="391.0" y2="957.0" stroke="#2e82f0" stroke-width="20.0" stroke-opacity="0.75"/>
<line x1="391.0" y1="957.0" x2="428.0" y2="948.0" stroke="#3cc8f0" stroke-width="24.0" stroke-opacity="0.70"/>
<line x1="428.0" y1="948.0" x2="465.0" y2="942.0" stroke="#3cd7eb" stroke-width="26.0" stroke-opacity="0.70"/>
<line x1="465.0" y1="942.0" x2="520.0" y2="939.0" stroke="#46e1d7" stroke-width="25.0" stroke-opacity="0.68"/>
<line x1="520.0" y1="939.0" x2="554.0" y2="944.0" stroke="#50ebbe" stroke-width="24.0" stroke-opacity="0.66"/>
<line x1="554.0" y1="944.0" x2="585.0" y2="950.0" stroke="#78f08c" stroke-width="24.0" stroke-opacity="0.66"/>
</g>
<ellipse cx="353.0" cy="981.0" rx="6.0" ry="11.0" transform="rotate(10 353.0 981.0)" fill="#1e8cf0" fill-opacity="0.80" filter="url(#b3)"/>
<ellipse cx="626.0" cy="968.0" rx="36.0" ry="26.0" transform="rotate(-25 626.0 968.0)" fill="#37f0c3" fill-opacity="0.85" filter="url(#b6)"/>
<ellipse cx="648.0" cy="955.0" rx="22.0" ry="18.0" transform="rotate(0 648.0 955.0)" fill="#82fa78" fill-opacity="0.85" filter="url(#b6)"/>
<ellipse cx="600.0" cy="955.0" rx="16.0" ry="14.0" transform="rotate(0 600.0 955.0)" fill="#e8fbe8" fill-opacity="0.35" filter="url(#b6)"/>
<g filter="url(#b6)" opacity="1.00" fill="none" stroke-linecap="round">
<line x1="372.0" y1="830.0" x2="410.0" y2="832.0" stroke="#c8c4ec" stroke-width="19.0" stroke-opacity="0.55"/>
<line x1="410.0" y1="832.0" x2="445.0" y2="838.0" stroke="#cdc8f0" stroke-width="20.0" stroke-opacity="0.65"/>
<line x1="445.0" y1="838.0" x2="470.0" y2="850.0" stroke="#b4b4ec" stroke-width="17.0" stroke-opacity="0.60"/>
</g>
<g filter="url(#b6)" opacity="1.00" fill="none" stroke-linecap="round">
<line x1="432.0" y1="824.0" x2="448.0" y2="835.7" stroke="#4650e6" stroke-width="18.0" stroke-opacity="0.35"/>
<line x1="448.0" y1="835.7" x2="476.0" y2="852.5" stroke="#3440e6" stroke-width="24.0" stroke-opacity="0.60"/>
<line x1="476.0" y1="852.5" x2="504.0" y2="872.7" stroke="#2834e2" stroke-width="26.5" stroke-opacity="0.70"/>
<line x1="504.0" y1="872.7" x2="532.0" y2="888.3" stroke="#2430de" stroke-width="26.0" stroke-opacity="0.75"/>
<line x1="532.0" y1="888.3" x2="560.0" y2="899.5" stroke="#2a3cd2" stroke-width="23.0" stroke-opacity="0.75"/>
<line x1="560.0" y1="899.5" x2="588.0" y2="906.2" stroke="#3a50c4" stroke-width="19.0" stroke-opacity="0.70"/>
<line x1="588.0" y1="906.2" x2="616.0" y2="909.6" stroke="#5a6eaa" stroke-width="15.0" stroke-opacity="0.60"/>
<line x1="616.0" y1="909.6" x2="640.0" y2="910.0" stroke="#8c96a0" stroke-width="11.0" stroke-opacity="0.45"/>
</g>
<g filter="url(#b3)" opacity="1.00" fill="none" stroke-linecap="round">
<line x1="450.0" y1="836.5" x2="476.0" y2="852.5" stroke="#2430e4" stroke-width="11.5" stroke-opacity="0.85"/>
<line x1="476.0" y1="852.5" x2="504.0" y2="872.7" stroke="#1a28e0" stroke-width="13.5" stroke-opacity="0.95"/>
<line x1="504.0" y1="872.7" x2="532.0" y2="888.3" stroke="#1626dc" stroke-width="13.5" stroke-opacity="1.00"/>
<line x1="532.0" y1="888.3" x2="560.0" y2="899.5" stroke="#1c30d0" stroke-width="11.5" stroke-opacity="1.00"/>
<line x1="560.0" y1="899.5" x2="585.0" y2="905.5" stroke="#2c44c0" stroke-width="8.5" stroke-opacity="0.90"/>
</g>
<ellipse cx="640.0" cy="884.0" rx="26.0" ry="12.0" transform="rotate(10 640.0 884.0)" fill="#58b0f0" fill-opacity="0.30" filter="url(#b6)"/>
<ellipse cx="598.0" cy="872.0" rx="10.0" ry="12.0" transform="rotate(0 598.0 872.0)" fill="#6ea8ec" fill-opacity="0.30" filter="url(#b6)"/>
<ellipse cx="668.0" cy="920.0" rx="34.0" ry="24.0" transform="rotate(15 668.0 920.0)" fill="#f2f200" fill-opacity="1.00" filter="url(#b6)"/>
<g filter="url(#b3)" opacity="1.00" fill="none" stroke-linecap="round">
<line x1="640.0" y1="922.0" x2="660.0" y2="925.0" stroke="#f6ec00" stroke-width="50.0" stroke-opacity="1.00"/>
<line x1="660.0" y1="925.0" x2="675.0" y2="931.0" stroke="#f8e800" stroke-width="55.0" stroke-opacity="1.00"/>
<line x1="675.0" y1="931.0" x2="688.0" y2="938.0" stroke="#fce000" stroke-width="53.0" stroke-opacity="1.00"/>
<line x1="688.0" y1="938.0" x2="702.0" y2="947.0" stroke="#ffd600" stroke-width="46.0" stroke-opacity="1.00"/>
<line x1="702.0" y1="947.0" x2="716.0" y2="955.5" stroke="#ffca00" stroke-width="39.0" stroke-opacity="1.00"/>
<line x1="716.0" y1="955.5" x2="730.0" y2="964.0" stroke="#ffbe00" stroke-width="33.5" stroke-opacity="1.00"/>
<line x1="730.0" y1="964.0" x2="743.0" y2="970.5" stroke="#ffb000" stroke-width="28.5" stroke-opacity="1.00"/>
<line x1="743.0" y1="970.5" x2="757.0" y2="977.0" stroke="#ffa000" stroke-width="24.0" stroke-opacity="1.00"/>
<line x1="757.0" y1="977.0" x2="770.0" y2="983.0" stroke="#ff9000" stroke-width="20.8" stroke-opacity="1.00"/>
<line x1="770.0" y1="983.0" x2="785.0" y2="989.5" stroke="#ff8000" stroke-width="18.2" stroke-opacity="1.00"/>
<line x1="785.0" y1="989.5" x2="800.0" y2="998.0" stroke="#ff6c00" stroke-width="15.8" stroke-opacity="1.00"/>
<line x1="800.0" y1="998.0" x2="812.0" y2="1005.0" stroke="#ff5600" stroke-width="13.5" stroke-opacity="1.00"/>
</g>
<g filter="url(#b2)" opacity="1.00" fill="none" stroke-linecap="round">
<line x1="806.0" y1="1001.5" x2="814.0" y2="1006.0" stroke="#ff4800" stroke-width="12.2" stroke-opacity="1.00"/>
<line x1="814.0" y1="1006.0" x2="822.0" y2="1010.0" stroke="#ff3a00" stroke-width="11.0" stroke-opacity="1.00"/>
<line x1="822.0" y1="1010.0" x2="832.0" y2="1013.0" stroke="#fc2c00" stroke-width="10.2" stroke-opacity="1.00"/>
<line x1="832.0" y1="1013.0" x2="845.0" y2="1014.8" stroke="#f81e00" stroke-width="9.8" stroke-opacity="1.00"/>
<line x1="845.0" y1="1014.8" x2="860.0" y2="1015.5" stroke="#f01200" stroke-width="9.5" stroke-opacity="1.00"/>
<line x1="860.0" y1="1015.5" x2="875.0" y2="1015.5" stroke="#e40800" stroke-width="9.5" stroke-opacity="1.00"/>
<line x1="875.0" y1="1015.5" x2="890.0" y2="1015.0" stroke="#d40000" stroke-width="9.5" stroke-opacity="1.00"/>
<line x1="890.0" y1="1015.0" x2="903.0" y2="1013.5" stroke="#c00000" stroke-width="9.5" stroke-opacity="1.00"/>
<line x1="903.0" y1="1013.5" x2="915.0" y2="1011.5" stroke="#a60000" stroke-width="9.5" stroke-opacity="1.00"/>
<line x1="915.0" y1="1011.5" x2="924.0" y2="1010.5" stroke="#900000" stroke-width="9.2" stroke-opacity="1.00"/>
<line x1="924.0" y1="1010.5" x2="931.0" y2="1010.5" stroke="#840000" stroke-width="8.8" stroke-opacity="1.00"/>
</g>
<ellipse cx="330.0" cy="1052.0" rx="40.0" ry="26.0" transform="rotate(30 330.0 1052.0)" fill="#4898f0" fill-opacity="0.38" filter="url(#b9)"/>
<ellipse cx="343.5" cy="1063.5" rx="21.0" ry="13.5" transform="rotate(35 343.5 1063.5)" fill="#1030e0" fill-opacity="0.95" filter="url(#b6)"/>
<ellipse cx="345.0" cy="1065.0" rx="11.0" ry="7.5" transform="rotate(35 345.0 1065.0)" fill="#0820d8" fill-opacity="0.90" filter="url(#b3)"/>
<ellipse cx="372.0" cy="1044.0" rx="5.0" ry="8.0" transform="rotate(-30 372.0 1044.0)" fill="#5080f0" fill-opacity="0.50" filter="url(#b3)"/>
<ellipse cx="352.0" cy="1028.0" rx="6.0" ry="4.0" transform="rotate(0 352.0 1028.0)" fill="#6090f0" fill-opacity="0.40" filter="url(#b3)"/>
<ellipse cx="382.0" cy="1093.0" rx="5.0" ry="4.0" transform="rotate(0 382.0 1093.0)" fill="#5070e0" fill-opacity="0.50" filter="url(#b3)"/>
<ellipse cx="355.0" cy="942.0" rx="30.0" ry="11.0" transform="rotate(12 355.0 942.0)" fill="#d8d4f0" fill-opacity="0.40" filter="url(#b6)"/>
<g stroke="#808080" stroke-opacity="0.5" stroke-width="1.0" stroke-dasharray="3.7 2.0">
<line x1="285.5" y1="485.2" x2="285.5" y2="1540.0"/>
<line x1="466.2" y1="485.2" x2="466.2" y2="1540.0"/>
<line x1="646.9" y1="485.2" x2="646.9" y2="1540.0"/>
<line x1="827.7" y1="485.2" x2="827.7" y2="1540.0"/>
<line x1="1008.4" y1="485.2" x2="1008.4" y2="1540.0"/>
<line x1="1189.1" y1="485.2" x2="1189.1" y2="1540.0"/>
<line x1="1369.8" y1="485.2" x2="1369.8" y2="1540.0"/>
<line x1="1550.5" y1="485.2" x2="1550.5" y2="1540.0"/>
<line x1="251.0" y1="626.3" x2="1607.0" y2="626.3"/>
<line x1="251.0" y1="807.1" x2="1607.0" y2="807.1"/>
<line x1="251.0" y1="987.9" x2="1607.0" y2="987.9"/>
<line x1="251.0" y1="1168.6" x2="1607.0" y2="1168.6"/>
<line x1="251.0" y1="1349.4" x2="1607.0" y2="1349.4"/>
<line x1="251.0" y1="1530.2" x2="1607.0" y2="1530.2"/>
</g>
<line x1="928.9" y1="485.2" x2="928.9" y2="1540.0" stroke="#f00" stroke-width="2.2"/>
<line x1="251.0" y1="1012.9" x2="1607.0" y2="1012.9" stroke="#f00" stroke-width="2.2"/>
</g>
<text x="263.2" y="510.0" font-size="17.0" fill="#fff" textLength="303.6" lengthAdjust="spacingAndGlyphs" fill-opacity="0.8">FLEXPART-WRF at MIM (LMU Munich)</text>
<text x="263.2" y="527.6" font-size="17.0" fill="#fff" textLength="204.5" lengthAdjust="spacingAndGlyphs" fill-opacity="0.8">christoph.knote@lmu.de</text>
<text x="263.2" y="545.2" font-size="17.0" fill="#fff" textLength="96.9" lengthAdjust="spacingAndGlyphs" fill-opacity="0.8">2019-07-14</text>
<text x="1103.2" y="1502.0" font-size="44.0" fill="#000" textLength="471.3" lengthAdjust="spacingAndGlyphs">2019-07-12 06:00 UTC</text>
<rect x="251.0" y="485.2" width="1356.0" height="1054.8" fill="none" stroke="#000" stroke-width="4.17"/>
<text x="263.3" y="1588.6" font-size="35.3" fill="#000" textLength="42.4" lengthAdjust="spacingAndGlyphs">12</text>
<text x="444.0" y="1588.6" font-size="35.3" fill="#000" textLength="42.4" lengthAdjust="spacingAndGlyphs">18</text>
<text x="624.7" y="1588.6" font-size="35.3" fill="#000" textLength="42.4" lengthAdjust="spacingAndGlyphs">24</text>
<text x="805.5" y="1588.6" font-size="35.3" fill="#000" textLength="42.4" lengthAdjust="spacingAndGlyphs">30</text>
<text x="986.2" y="1588.6" font-size="35.3" fill="#000" textLength="42.4" lengthAdjust="spacingAndGlyphs">36</text>
<text x="1166.9" y="1588.6" font-size="35.3" fill="#000" textLength="42.4" lengthAdjust="spacingAndGlyphs">42</text>
<text x="1347.6" y="1588.6" font-size="35.3" fill="#000" textLength="42.4" lengthAdjust="spacingAndGlyphs">48</text>
<text x="1528.3" y="1588.6" font-size="35.3" fill="#000" textLength="42.4" lengthAdjust="spacingAndGlyphs">54</text>
<text x="187.5" y="640.3" font-size="35.3" fill="#000" textLength="42.4" lengthAdjust="spacingAndGlyphs">48</text>
<text x="187.5" y="821.1" font-size="35.3" fill="#000" textLength="42.4" lengthAdjust="spacingAndGlyphs">42</text>
<text x="187.5" y="1001.9" font-size="35.3" fill="#000" textLength="42.4" lengthAdjust="spacingAndGlyphs">36</text>
<text x="187.5" y="1182.6" font-size="35.3" fill="#000" textLength="42.4" lengthAdjust="spacingAndGlyphs">30</text>
<text x="187.5" y="1363.4" font-size="35.3" fill="#000" textLength="42.4" lengthAdjust="spacingAndGlyphs">24</text>
<text x="187.5" y="1544.2" font-size="35.3" fill="#000" textLength="42.4" lengthAdjust="spacingAndGlyphs">18</text>
<text x="643.0" y="461.1" font-size="35.3" fill="#000" textLength="571.9" lengthAdjust="spacingAndGlyphs">Column-integrated residence time</text>
</g>
<g id="ax3">
<g clip-path="url(#cax3)">
<path d="M1853.0 485.0 L1862.3 485.0 L1862.3 520.6 L1861.4 527.7 L1862.5 536.5 L1860.6 566.6 L1858.8 586.0 L1859.7 594.8 L1861.8 603.7 L1859.7 621.3 L1856.5 656.7 L1856.3 700.0 L1856.9 701.0 L1856.3 706.0 L1856.5 800.3 L1862.7 805.6 L1875.9 808.8 L1905.1 813.9 L1912.2 818.9 L1913.9 822.4 L1911.8 829.1 L1921.9 835.7 L1924.2 841.8 L1921.9 848.0 L1916.6 853.3 L1910.4 859.0 L1913.4 866.6 L1911.3 873.6 L1906.3 882.5 L1906.3 893.1 L1903.7 905.4 L1905.1 914.3 L1910.4 925.8 L1910.4 937.2 L1913.0 948.7 L1928.4 955.8 L1927.2 958.8 L1907.7 964.6 L1895.4 970.8 L1889.2 979.3 L1875.9 982.7 L1861.8 985.8 L1856.5 988.5 L1856.5 1004.0 L1870.6 1016.7 L1869.8 1019.4 L1860.9 1024.7 L1856.5 1030.0 L1856.5 1136.5 L1868.9 1145.7 L1876.3 1157.7 L1879.5 1167.5 L1886.5 1176.3 L1891.0 1186.0 L1890.6 1190.8 L1881.2 1195.7 L1870.6 1204.6 L1860.0 1211.6 L1856.1 1217.8 L1856.5 1224.0 L1860.9 1233.7 L1866.2 1241.7 L1875.9 1247.0 L1891.8 1256.3 L1894.0 1259.3 L1886.5 1267.3 L1881.2 1274.3 L1877.7 1281.4 L1870.6 1286.7 L1867.6 1295.5 L1869.8 1304.4 L1867.1 1318.5 L1865.9 1327.3 L1863.9 1334.4 L1866.2 1341.5 L1871.0 1348.6 L1872.4 1360.9 L1873.8 1369.8 L1874.2 1371.0 L1868.0 1384.2 L1867.5 1393.0 L1872.4 1408.0 L1870.3 1419.6 L1871.5 1447.8 L1872.8 1470.8 L1872.0 1484.9 L1875.6 1507.9 L1879.5 1527.3 L1878.6 1541.0 L1853.0 1541.0Z" fill="#000"/>
<polygon points="1862.3,1007.4 1871.5,1007.4 1875.6,1009.6 1875.6,1013.6 1869.8,1013.6" fill="#800000"/>
<polygon points="1875.6,1009.6 1884,1009.6 1888,1013.6 1875.6,1013.6" fill="#a03030" opacity="0.9"/>
<polygon points="1872,1007.4 1881,1007.4 1884,1009.6 1875.6,1009.6" fill="#c06060" opacity="0.25"/>
</g>
<line x1="1875.5" y1="485.2" x2="1875.5" y2="1540.3" stroke="#808080" stroke-width="1.05" stroke-dasharray="5.1 2.2"/>
<line x1="2075.5" y1="485.2" x2="2075.5" y2="1540.3" stroke="#808080" stroke-width="1.05" stroke-dasharray="5.1 2.2"/>
<line x1="2274.5" y1="485.2" x2="2274.5" y2="1540.3" stroke="#808080" stroke-width="1.05" stroke-dasharray="5.1 2.2"/>
<rect x="1854.7" y="485.2" width="431.8" height="1055.1" fill="none" stroke="#000" stroke-width="3.33"/>
<line x1="1875.5" y1="470.6" x2="1875.5" y2="485.2" stroke="#808080" stroke-width="3.33"/>
<text x="1864.4" y="450.0" font-size="35.3" fill="#808080" textLength="21.2" lengthAdjust="spacingAndGlyphs">0</text>
<line x1="2075.5" y1="470.6" x2="2075.5" y2="485.2" stroke="#808080" stroke-width="3.33"/>
<text x="2053.8" y="450.0" font-size="35.3" fill="#808080" textLength="42.4" lengthAdjust="spacingAndGlyphs">50</text>
<line x1="2274.5" y1="470.6" x2="2274.5" y2="485.2" stroke="#808080" stroke-width="3.33"/>
<text x="2242.2" y="450.0" font-size="35.3" fill="#808080" textLength="63.6" lengthAdjust="spacingAndGlyphs">100</text>
<line x1="1840.1" y1="566.0" x2="1854.7" y2="566.0" stroke="#000" stroke-width="3.33"/>
<text x="1782.2" y="578.9" font-size="35.3" fill="#000" textLength="42.4" lengthAdjust="spacingAndGlyphs">50</text>
<line x1="1840.1" y1="716.7" x2="1854.7" y2="716.7" stroke="#000" stroke-width="3.33"/>
<text x="1782.2" y="729.6" font-size="35.3" fill="#000" textLength="42.4" lengthAdjust="spacingAndGlyphs">45</text>
<line x1="1840.1" y1="867.3" x2="1854.7" y2="867.3" stroke="#000" stroke-width="3.33"/>
<text x="1782.2" y="880.2" font-size="35.3" fill="#000" textLength="42.4" lengthAdjust="spacingAndGlyphs">40</text>
<line x1="1840.1" y1="1018.0" x2="1854.7" y2="1018.0" stroke="#000" stroke-width="3.33"/>
<text x="1782.2" y="1030.9" font-size="35.3" fill="#000" textLength="42.4" lengthAdjust="spacingAndGlyphs">35</text>
<line x1="1840.1" y1="1168.6" x2="1854.7" y2="1168.6" stroke="#000" stroke-width="3.33"/>
<text x="1782.2" y="1181.5" font-size="35.3" fill="#000" textLength="42.4" lengthAdjust="spacingAndGlyphs">30</text>
<line x1="1840.1" y1="1319.3" x2="1854.7" y2="1319.3" stroke="#000" stroke-width="3.33"/>
<text x="1782.2" y="1332.2" font-size="35.3" fill="#000" textLength="42.4" lengthAdjust="spacingAndGlyphs">25</text>
<line x1="1840.1" y1="1469.9" x2="1854.7" y2="1469.9" stroke="#000" stroke-width="3.33"/>
<text x="1782.2" y="1482.8" font-size="35.3" fill="#000" textLength="42.4" lengthAdjust="spacingAndGlyphs">20</text>
<line x1="1854.7" y1="1540.3" x2="1854.7" y2="1554.9" stroke="#000" stroke-width="3.33"/>
<g transform="translate(1857.7,1586.0) rotate(45)"><text x="-10.6" y="12.6" font-size="35.3" fill="#000" textLength="21.2" lengthAdjust="spacingAndGlyphs">0</text></g>
<line x1="1962.7" y1="1540.3" x2="1962.7" y2="1554.9" stroke="#000" stroke-width="3.33"/>
<g transform="translate(1965.7,1607.4) rotate(45)"><text x="-42.4" y="12.6" font-size="35.3" fill="#000" textLength="84.8" lengthAdjust="spacingAndGlyphs">2000</text></g>
<line x1="2070.6" y1="1540.3" x2="2070.6" y2="1554.9" stroke="#000" stroke-width="3.33"/>
<g transform="translate(2073.6,1607.4) rotate(45)"><text x="-42.4" y="12.6" font-size="35.3" fill="#000" textLength="84.8" lengthAdjust="spacingAndGlyphs">4000</text></g>
<line x1="2178.6" y1="1540.3" x2="2178.6" y2="1554.9" stroke="#000" stroke-width="3.33"/>
<g transform="translate(2181.6,1607.4) rotate(45)"><text x="-42.4" y="12.6" font-size="35.3" fill="#000" textLength="84.8" lengthAdjust="spacingAndGlyphs">6000</text></g>
<line x1="2286.5" y1="1540.3" x2="2286.5" y2="1554.9" stroke="#000" stroke-width="3.33"/>
<g transform="translate(2289.5,1607.4) rotate(45)"><text x="-42.4" y="12.6" font-size="35.3" fill="#000" textLength="84.8" lengthAdjust="spacingAndGlyphs">8000</text></g>
<text x="1935.0" y="1694.2" font-size="35.3" fill="#000" textLength="270.1" lengthAdjust="spacingAndGlyphs">altitude (m ASL)</text>
<g transform="translate(2330,1294.6) rotate(-90)"><text x="0.0" y="0.0" font-size="35.3" fill="#000" textLength="562.6" lengthAdjust="spacingAndGlyphs">Latitudinal curtain residence time</text></g>
</g>
<g id="cbar">
<rect x="194.50" y="1635.5" width="21.02" height="61.8" fill="#800000"/>
<rect x="214.92" y="1635.5" width="21.02" height="61.8" fill="#8d0000"/>
<rect x="235.34" y="1635.5" width="21.02" height="61.8" fill="#9f0000"/>
<rect x="255.76" y="1635.5" width="21.02" height="61.8" fill="#ad0000"/>
<rect x="276.18" y="1635.5" width="21.02" height="61.8" fill="#bf0000"/>
<rect x="296.60" y="1635.5" width="21.02" height="61.8" fill="#d10000"/>
<rect x="317.02" y="1635.5" width="21.02" height="61.8" fill="#df0000"/>
<rect x="337.44" y="1635.5" width="21.02" height="61.8" fill="#f10800"/>
<rect x="357.86" y="1635.5" width="21.02" height="61.8" fill="#ff1300"/>
<rect x="378.27" y="1635.5" width="21.02" height="61.8" fill="#ff2200"/>
<rect x="398.69" y="1635.5" width="21.02" height="61.8" fill="#ff3000"/>
<rect x="419.11" y="1635.5" width="21.02" height="61.8" fill="#ff3b00"/>
<rect x="439.53" y="1635.5" width="21.02" height="61.8" fill="#ff4a00"/>
<rect x="459.95" y="1635.5" width="21.02" height="61.8" fill="#ff5500"/>
<rect x="480.37" y="1635.5" width="21.02" height="61.8" fill="#ff6400"/>
<rect x="500.79" y="1635.5" width="21.02" height="61.8" fill="#ff7300"/>
<rect x="521.21" y="1635.5" width="21.02" height="61.8" fill="#ff7e00"/>
<rect x="541.63" y="1635.5" width="21.02" height="61.8" fill="#ff8d00"/>
<rect x="562.05" y="1635.5" width="21.02" height="61.8" fill="#ff9800"/>
<rect x="582.47" y="1635.5" width="21.02" height="61.8" fill="#ffa700"/>
<rect x="602.89" y="1635.5" width="21.02" height="61.8" fill="#ffb600"/>
<rect x="623.31" y="1635.5" width="21.02" height="61.8" fill="#ffc100"/>
<rect x="643.73" y="1635.5" width="21.02" height="61.8" fill="#ffd000"/>
<rect x="664.15" y="1635.5" width="21.02" height="61.8" fill="#ffdb00"/>
<rect x="684.57" y="1635.5" width="21.02" height="61.8" fill="#ffea00"/>
<rect x="704.99" y="1635.5" width="21.02" height="61.8" fill="#f4f802"/>
<rect x="725.41" y="1635.5" width="21.02" height="61.8" fill="#ebff0c"/>
<rect x="745.83" y="1635.5" width="21.02" height="61.8" fill="#deff19"/>
<rect x="766.24" y="1635.5" width="21.02" height="61.8" fill="#d4ff23"/>
<rect x="786.66" y="1635.5" width="21.02" height="61.8" fill="#c7ff30"/>
<rect x="807.08" y="1635.5" width="21.02" height="61.8" fill="#baff3c"/>
<rect x="827.50" y="1635.5" width="21.02" height="61.8" fill="#b1ff46"/>
<rect x="847.92" y="1635.5" width="21.02" height="61.8" fill="#a4ff53"/>
<rect x="868.34" y="1635.5" width="21.02" height="61.8" fill="#9aff5d"/>
<rect x="888.76" y="1635.5" width="21.02" height="61.8" fill="#8dff6a"/>
<rect x="909.18" y="1635.5" width="21.02" height="61.8" fill="#80ff77"/>
<rect x="929.60" y="1635.5" width="21.02" height="61.8" fill="#77ff80"/>
<rect x="950.02" y="1635.5" width="21.02" height="61.8" fill="#6aff8d"/>
<rect x="970.44" y="1635.5" width="21.02" height="61.8" fill="#5dff9a"/>
<rect x="990.86" y="1635.5" width="21.02" height="61.8" fill="#53ffa4"/>
<rect x="1011.28" y="1635.5" width="21.02" height="61.8" fill="#46ffb1"/>
<rect x="1031.70" y="1635.5" width="21.02" height="61.8" fill="#3cffba"/>
<rect x="1052.12" y="1635.5" width="21.02" height="61.8" fill="#30ffc7"/>
<rect x="1072.54" y="1635.5" width="21.02" height="61.8" fill="#23ffd4"/>
<rect x="1092.96" y="1635.5" width="21.02" height="61.8" fill="#19ffde"/>
<rect x="1113.38" y="1635.5" width="21.02" height="61.8" fill="#0cf5eb"/>
<rect x="1133.79" y="1635.5" width="21.02" height="61.8" fill="#02e9f4"/>
<rect x="1154.21" y="1635.5" width="21.02" height="61.8" fill="#00d9ff"/>
<rect x="1174.63" y="1635.5" width="21.02" height="61.8" fill="#00c9ff"/>
<rect x="1195.05" y="1635.5" width="21.02" height="61.8" fill="#00bdff"/>
<rect x="1215.47" y="1635.5" width="21.02" height="61.8" fill="#00adff"/>
<rect x="1235.89" y="1635.5" width="21.02" height="61.8" fill="#00a1ff"/>
<rect x="1256.31" y="1635.5" width="21.02" height="61.8" fill="#0091ff"/>
<rect x="1276.73" y="1635.5" width="21.02" height="61.8" fill="#0081ff"/>
<rect x="1297.15" y="1635.5" width="21.02" height="61.8" fill="#0075ff"/>
<rect x="1317.57" y="1635.5" width="21.02" height="61.8" fill="#0065ff"/>
<rect x="1337.99" y="1635.5" width="21.02" height="61.8" fill="#0059ff"/>
<rect x="1358.41" y="1635.5" width="21.02" height="61.8" fill="#0049ff"/>
<rect x="1378.83" y="1635.5" width="21.02" height="61.8" fill="#0039ff"/>
<rect x="1399.25" y="1635.5" width="21.02" height="61.8" fill="#002dff"/>
<rect x="1419.67" y="1635.5" width="21.02" height="61.8" fill="#001dff"/>
<rect x="1440.09" y="1635.5" width="21.02" height="61.8" fill="#0010ff"/>
<rect x="1460.51" y="1635.5" width="21.02" height="61.8" fill="#0000ff"/>
<rect x="1480.92" y="1635.5" width="21.02" height="61.8" fill="#0000ff"/>
<rect x="1501.34" y="1635.5" width="21.02" height="61.8" fill="#0000f1"/>
<rect x="1521.76" y="1635.5" width="21.02" height="61.8" fill="#0000df"/>
<rect x="1542.18" y="1635.5" width="21.02" height="61.8" fill="#0000d1"/>
<rect x="1562.60" y="1635.5" width="21.02" height="61.8" fill="#0000bf"/>
<rect x="1583.02" y="1635.5" width="21.02" height="61.8" fill="#0000ad"/>
<rect x="1603.44" y="1635.5" width="21.02" height="61.8" fill="#00009f"/>
<rect x="1623.86" y="1635.5" width="21.02" height="61.8" fill="#00008d"/>
<rect x="1644.28" y="1635.5" width="21.02" height="61.8" fill="#000080"/>
<rect x="194.5" y="1635.5" width="1470.2" height="61.8" fill="none" stroke="#000" stroke-width="3.33"/>
<line x1="194.5" y1="1697.3" x2="194.5" y2="1711.9" stroke="#000" stroke-width="3.33"/>
<text x="183.1" y="1753.7" font-size="35.3" fill="#000" textLength="21.2" lengthAdjust="spacingAndGlyphs">0</text>
<line x1="357.9" y1="1697.3" x2="357.9" y2="1711.9" stroke="#000" stroke-width="3.33"/>
<text x="346.5" y="1753.7" font-size="35.3" fill="#000" textLength="21.2" lengthAdjust="spacingAndGlyphs">8</text>
<line x1="521.2" y1="1697.3" x2="521.2" y2="1711.9" stroke="#000" stroke-width="3.33"/>
<text x="499.2" y="1753.7" font-size="35.3" fill="#000" textLength="42.4" lengthAdjust="spacingAndGlyphs">16</text>
<line x1="684.6" y1="1697.3" x2="684.6" y2="1711.9" stroke="#000" stroke-width="3.33"/>
<text x="662.6" y="1753.7" font-size="35.3" fill="#000" textLength="42.4" lengthAdjust="spacingAndGlyphs">24</text>
<line x1="847.9" y1="1697.3" x2="847.9" y2="1711.9" stroke="#000" stroke-width="3.33"/>
<text x="825.9" y="1753.7" font-size="35.3" fill="#000" textLength="42.4" lengthAdjust="spacingAndGlyphs">32</text>
<line x1="1011.3" y1="1697.3" x2="1011.3" y2="1711.9" stroke="#000" stroke-width="3.33"/>
<text x="989.3" y="1753.7" font-size="35.3" fill="#000" textLength="42.4" lengthAdjust="spacingAndGlyphs">40</text>
<line x1="1174.6" y1="1697.3" x2="1174.6" y2="1711.9" stroke="#000" stroke-width="3.33"/>
<text x="1152.6" y="1753.7" font-size="35.3" fill="#000" textLength="42.4" lengthAdjust="spacingAndGlyphs">48</text>
<line x1="1338.0" y1="1697.3" x2="1338.0" y2="1711.9" stroke="#000" stroke-width="3.33"/>
<text x="1316.0" y="1753.7" font-size="35.3" fill="#000" textLength="42.4" lengthAdjust="spacingAndGlyphs">56</text>
<line x1="1501.3" y1="1697.3" x2="1501.3" y2="1711.9" stroke="#000" stroke-width="3.33"/>
<text x="1479.3" y="1753.7" font-size="35.3" fill="#000" textLength="42.4" lengthAdjust="spacingAndGlyphs">64</text>
<line x1="1664.7" y1="1697.3" x2="1664.7" y2="1711.9" stroke="#000" stroke-width="3.33"/>
<text x="1642.7" y="1753.7" font-size="35.3" fill="#000" textLength="42.4" lengthAdjust="spacingAndGlyphs">72</text>
<text x="662.1" y="1801.4" font-size="35.3" fill="#000" textLength="533.7" lengthAdjust="spacingAndGlyphs">time since arrival at location [h]</text>
</g>
</svg></body></html>
